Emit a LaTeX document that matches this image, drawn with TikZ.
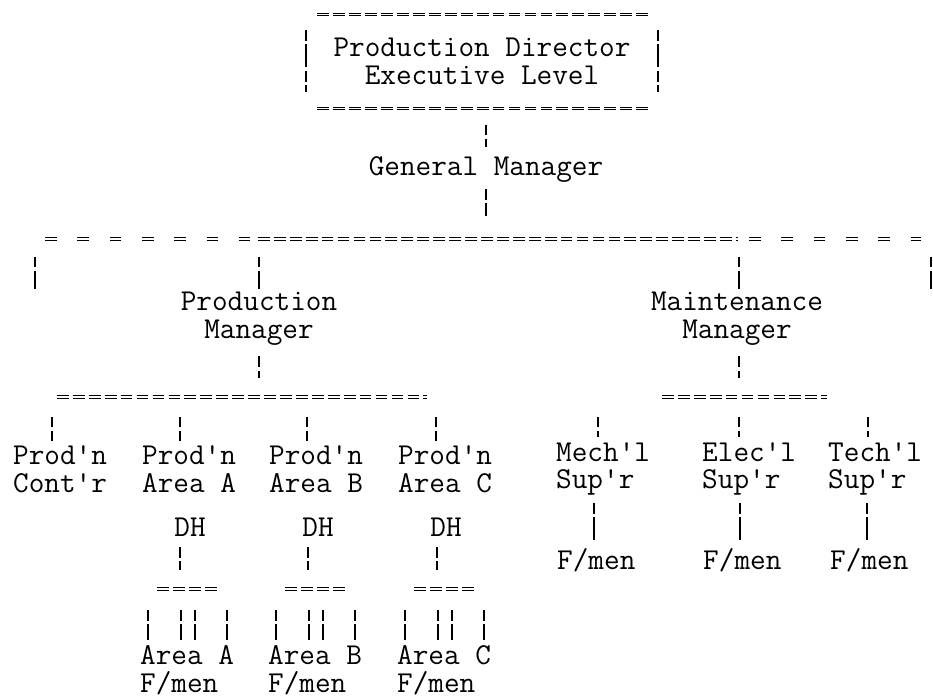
\documentclass[tikz,border=0pt]{standalone}
\usepackage{fontspec}
\usetikzlibrary{calc}

\begin{document}
\begin{tikzpicture}[x=0.03cm, y=-0.03cm,
  every node/.style={inner sep=0pt, font=\ttfamily\fontsize{25.9}{23.8}\selectfont},
  lbl/.style={anchor=west, align=left},
  vbar/.style={line width=1.3pt, dash pattern=on 9pt off 3pt on 20pt off 3pt},
  hbus/.style={line width=0.85pt, double=white, double distance=0.9pt, dash pattern=on 10pt off 3.6pt},
  hgap/.style={hbus, dash pattern=on 10pt off 17.6pt}]

\useasboundingbox (0,0) rectangle (933,699);

% top box
\node (pd) at (482,61.5) [minimum width=10.56cm, minimum height=2.79cm, align=center]
  {Production Director\\Executive Level};
\draw[hbus] ([xshift=10pt]pd.north west) -- ([xshift=-8.5pt]pd.north east);
\draw[hbus] ([xshift=10pt]pd.south west) -- ([xshift=-8.5pt]pd.south east);
\draw[vbar] ([yshift=-13pt]pd.north west) -- ([yshift=14pt]pd.south west);
\draw[vbar] ([yshift=-13pt]pd.north east) -- ([yshift=14pt]pd.south east);

\node (gm) at (486,170) {General Manager};
\draw[vbar, shorten <=14pt, shorten >=8pt] (pd.south -| gm) -- (gm);

% main bus
\coordinate (gbus) at (486,239);
\draw[hgap] (45,239) -- (250,239);
\draw[hbus] (258,239) -- (738,239);
\draw[hgap] (749,239) -- (921,239);
\draw[vbar, shorten <=5pt, shorten >=20pt] (gm) -- (gbus);

\node (prodm) at (259,319) [align=center] {Production\\Manager};
\node (maintm) at (737,319) [align=center] {Maintenance\\Manager};

\foreach \x/\n in {35/1, 259/2, 739/3, 931/4}
  \coordinate (t\n) at (\x,239);
\foreach \n in {1,2,3,4}
  \draw[vbar, shorten <=15pt, shorten >=3pt] (t\n) -- (t\n |- prodm.north);

% second level buses
\coordinate (pbus) at (259,397);
\coordinate (mbus) at (739,397);
\draw[hbus] (57,397) -- (427,397);
\draw[hbus] (662,397) -- (827,397);
\draw[vbar, shorten <=9pt, shorten >=16pt] (prodm) -- (pbus);
\draw[vbar, shorten <=9pt, shorten >=16pt] (maintm.south -| mbus) -- (mbus);

% production side
\foreach \name/\s/\lab in {prodc/13/Cont'r, areaa/142/Area A, areab/269/Area B, areac/398/Area C}
  \node[lbl] (\name) at (\s,469) {Prod'n\\\lab};
\foreach \name/\x in {dha/190, dhb/318, dhc/446}
  \node (\name) at (\x,527) {DH};
\foreach \name/\s/\lab in {fma/140/A, fmb/268/B, fmc/397/C}
  \node[lbl] (\name) at (\s,670) {Area \lab\\F/men};

\foreach \name/\x in {prodc/52, areaa/180, areab/307, areac/436} {
  \coordinate (\name-t) at (\x,397);
  \draw[vbar, shorten <=17pt, shorten >=4pt] (\name-t) -- (\name-t |- \name.north);
}

\foreach \g/\x in {a/180, b/308, c/437} {
  \coordinate (sb\g) at (\x,589);
  \draw[vbar, shorten <=9pt, shorten >=16pt] (sb\g |- dh\g.south) -- (sb\g);
  \path ($(fm\g.west)+(17,0)$) coordinate (sl) ($(fm\g.west)+(78,0)$) coordinate (sr);
  \draw[hbus] (sl |- sb\g) -- (sr |- sb\g);
  \foreach \o in {8,41,55,87} {
    \path ($(fm\g.north west)+(\o,0)$) coordinate (q);
    \draw[vbar, shorten <=18pt, shorten >=4pt] (q |- sb\g) -- (q);
  }
}

% maintenance side
\foreach \name/\s/\lab in {mech/556/Mech'l, elec/702/Elec'l, tech/828/Tech'l}
  \node[lbl] (\name) at (\s,469) {\lab\\Sup'r};
\foreach \name/\s in {fmm/557, fme/703, fmt/830}
  \node[lbl] (\name) at (\s,560) {F/men};

\foreach \name/\x in {mech/598, elec/739, tech/868} {
  \coordinate (\name-t) at (\x,397);
  \draw[vbar, shorten <=17pt, shorten >=4pt] (\name-t) -- (\name-t |- \name.north);
}
\foreach \a/\b in {mech/fmm, elec/fme, tech/fmt} {
  \coordinate (\b-t) at ([xshift=31.5pt]\b.north west);
  \draw[vbar, shorten <=6pt, shorten >=7pt] (\b-t |- \a.south) -- (\b-t);
}

\end{tikzpicture}
\end{document}
